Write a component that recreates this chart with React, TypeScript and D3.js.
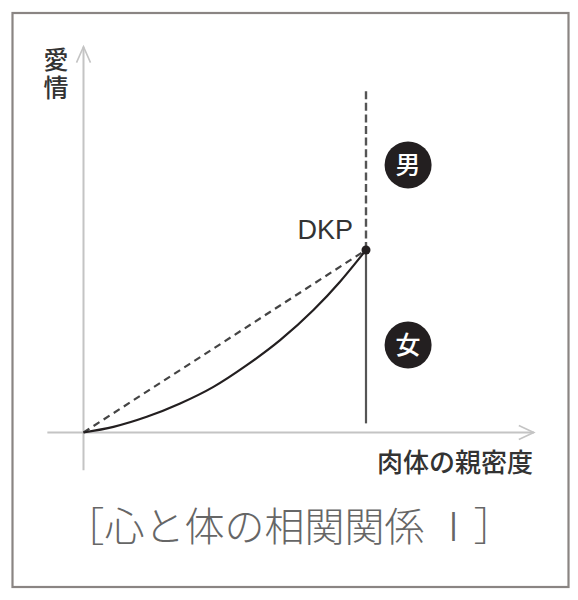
import React from 'react';
import * as d3 from 'd3';

// curve of 愛情 vs 肉体の親密度 (normalised so that DKP = 100,100)
const curveX = [0, 10.6, 22.4, 34.2, 46.0, 57.8, 69.6, 81.4, 90.8, 96.7, 100];
const curveY = [0, 3.1, 8.6, 15.9, 25.0, 36.9, 50.6, 67.1, 82.6, 93.6, 100];

const dkpPoint = { x: 100, y: 100, label: 'DKP' };
const dividerTop = 188;
const dividerBottom = 5;

const regionLabels = ['男', '女'];
const regionX = [114.9, 114.9];
const regionY = [146.6, 47.9];

const xAxisExtent = [-12.8, 159.4];
const yAxisExtent = [-20.7, 211.4];

const xAxisLabel = '肉体の親密度';
const yAxisLabel = '愛情';
const title = '［心と体の相関関係 Ⅰ］';

const W = 578;
const H = 600;
const JP = '"Noto Sans CJK JP", "Noto Sans", sans-serif';
const ink = '#231f20';
const axisGrey = '#c4c4c4';

export default function App() {
  const x = d3.scaleLinear().domain([0, 100]).range([83.5, 366]);
  const y = d3.scaleLinear().domain([0, 100]).range([432.5, 250]);

  const pts: [number, number][] = curveX.map((v, i) => [v, curveY[i]]);
  const line = d3.line<[number, number]>()
    .x(d => x(d[0]))
    .y(d => y(d[1]))
    .curve(d3.curveMonotoneX);

  const xTip = x(xAxisExtent[1]);
  const yTip = y(yAxisExtent[1]);
  const x0 = x(0);
  const y0 = y(0);

  return (
    <svg width={W} height={H} style={{ position: 'absolute', left: 0, top: 0 }}>
      <rect x={0} y={0} width={W} height={H} fill="#fff" />
      <rect x={12.5} y={13} width={556} height={574} fill="none" stroke="#8a8583" strokeWidth={2.2} />

      {/* axes */}
      <line x1={x(xAxisExtent[0])} y1={y0} x2={xTip} y2={y0} stroke={axisGrey} strokeWidth={2} />
      <line x1={x0} y1={y(yAxisExtent[0])} x2={x0} y2={yTip} stroke={axisGrey} strokeWidth={2} />
      <polyline points={`${xTip - 15},${y0 - 7} ${xTip},${y0} ${xTip - 15},${y0 + 7}`} fill="none" stroke={axisGrey} strokeWidth={1.6} />
      <polyline points={`${x0 - 7},${yTip + 16} ${x0},${yTip} ${x0 + 7},${yTip + 16}`} fill="none" stroke={axisGrey} strokeWidth={1.6} />

      {/* divider at DKP */}
      <line x1={x(dkpPoint.x)} y1={y(dkpPoint.y)} x2={x(dkpPoint.x)} y2={y(dividerTop)} stroke="#555" strokeWidth={2.4} strokeDasharray="8,3.6" />
      <line x1={x(dkpPoint.x)} y1={y(dkpPoint.y)} x2={x(dkpPoint.x)} y2={y(dividerBottom)} stroke="#555" strokeWidth={2.2} />

      {/* straight dashed line and curve */}
      <line x1={x0} y1={y0} x2={x(dkpPoint.x)} y2={y(dkpPoint.y)} stroke="#444" strokeWidth={2.2} strokeDasharray="7,5" />
      <path d={line(pts) || ''} fill="none" stroke={ink} strokeWidth={2.2} />
      <circle cx={x(dkpPoint.x)} cy={y(dkpPoint.y)} r={4.5} fill={ink} />
      <text x={x(dkpPoint.x) - 13} y={y(dkpPoint.y) - 11} textAnchor="end" fontFamily='"Liberation Sans", Arial, sans-serif' fontSize={27} fill="#333">{dkpPoint.label}</text>

      {regionLabels.map((lab, i) => (
        <g key={lab}>
          <circle cx={x(regionX[i])} cy={y(regionY[i])} r={23.5} fill={ink} />
          <text x={x(regionX[i])} y={y(regionY[i])} dy="0.36em" textAnchor="middle" fontFamily={JP} fontSize={25} fontWeight={500} fill="#fff">{lab}</text>
        </g>
      ))}

      {/* axis labels */}
      <text x={56} y={47} style={{ writingMode: 'vertical-rl' }} letterSpacing={3} fontFamily={JP} fontSize={25} fontWeight={500} fill="#333">{yAxisLabel}</text>
      <text x={533} y={472} textAnchor="end" fontFamily={JP} fontSize={26} fontWeight={500} fill="#333">{xAxisLabel}</text>

      <text x={289} y={541} textAnchor="middle" fontFamily={JP} fontSize={40} fontWeight={300} fill="#666">{title}</text>
    </svg>
  );
}
